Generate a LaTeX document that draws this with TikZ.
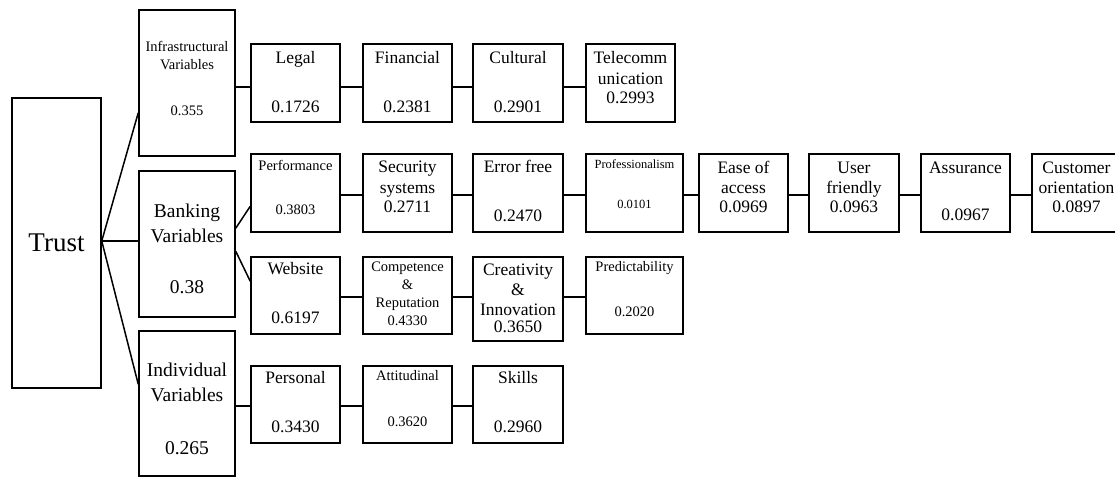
\documentclass[tikz,border=0pt]{standalone}
\usepackage{fontspec}
\setmainfont{Liberation Serif}
\tikzset{
  box/.style={draw, line width=1.5pt, inner sep=0pt},
  conn/.style={line width=1.5pt},
  fA/.style={inner sep=0pt, text height=17.8pt, text depth=0pt, font=\fontsize{27}{30}\selectfont},
  fB/.style={inner sep=0pt, text height=12.9pt, text depth=0pt, font=\fontsize{19.5}{22}\selectfont},
  fC/.style={inner sep=0pt, text height=11.6pt, text depth=0pt, font=\fontsize{17.5}{20}\selectfont},
  fD/.style={inner sep=0pt, text height=9.6pt, text depth=0pt, font=\fontsize{14.5}{17}\selectfont},
  fE/.style={inner sep=0pt, text height=8.3pt, text depth=0pt, font=\fontsize{12.5}{15}\selectfont},
}
\begin{document}
\begin{tikzpicture}[x=1pt,y=-1pt]
\useasboundingbox (0,0) rectangle (1115,477);
% ---- boxes ----
\node[box, minimum width=89pt, minimum height=290pt] (trust) at (56.5,243) {};
\node[box, minimum width=96pt, minimum height=146pt] (infra) at (187,83) {};
\node[box, minimum width=96pt, minimum height=146pt] (bank) at (187,244) {};
\node[box, minimum width=96pt, minimum height=145pt] (indiv) at (187,403.5) {};
% row 1
\node[box, minimum width=89pt, minimum height=78pt] (legal) at (295.5,83) {};
\node[box, minimum width=89pt, minimum height=78pt] (fin) at (407.5,83) {};
\node[box, minimum width=90pt, minimum height=78pt] (cult) at (518,83) {};
\node[box, minimum width=89pt, minimum height=78pt] (tele) at (630.5,83) {};
% row 2
\node[box, minimum width=89pt, minimum height=78pt] (perf) at (295.5,193) {};
\node[box, minimum width=89pt, minimum height=78pt] (sec) at (407.5,193) {};
\node[box, minimum width=90pt, minimum height=78pt] (err) at (518,193) {};
\node[box, minimum width=97pt, minimum height=78pt] (prof) at (634.5,193) {};
\node[box, minimum width=89pt, minimum height=78pt] (ease) at (743.5,193) {};
\node[box, minimum width=90pt, minimum height=78pt] (user) at (854,193) {};
\node[box, minimum width=89pt, minimum height=78pt] (assur) at (965.5,193) {};
\node[box, minimum width=89pt, minimum height=78pt] (cust) at (1076.5,193) {};
% row 3
\node[box, minimum width=89pt, minimum height=77pt] (web) at (295.5,295.5) {};
\node[box, minimum width=89pt, minimum height=77pt] (comp) at (407.5,295.5) {};
\node[box, minimum width=90pt, minimum height=84pt] (creat) at (518,299) {};
\node[box, minimum width=97pt, minimum height=77pt] (pred) at (634.5,295.5) {};
% row 4
\node[box, minimum width=89pt, minimum height=77pt] (pers) at (295.5,404.5) {};
\node[box, minimum width=89pt, minimum height=77pt] (att) at (407.5,404.5) {};
\node[box, minimum width=90pt, minimum height=77pt] (skill) at (518,404.5) {};
% ---- connectors ----
\draw[conn] ([yshift=2pt]trust.east) -- ([yshift=44pt]infra.south west);
\draw[conn] ([yshift=2pt]trust.east) -- ([yshift=2pt]trust.east -| bank.west);
\draw[conn] ([yshift=2pt]trust.east) -- ([yshift=-54pt]indiv.north west);
\draw[conn] ([yshift=-58pt]bank.north east) -- ([yshift=-53pt]perf.north west);
\draw[conn] ([yshift=-81pt]bank.north east) -- ([yshift=-25pt]web.north west);
\draw[conn] ([yshift=-4pt]legal.west -| infra.east) -- ([yshift=-4pt]legal.west);
\draw[conn] ([yshift=-4pt]legal.east) -- ([yshift=-4pt]fin.west);
\draw[conn] ([yshift=-4pt]fin.east) -- ([yshift=-4pt]cult.west);
\draw[conn] ([yshift=-4pt]cult.east) -- ([yshift=-4pt]tele.west);
\draw[conn] ([yshift=-2pt]perf.east) -- ([yshift=-2pt]sec.west);
\draw[conn] ([yshift=-2pt]sec.east) -- ([yshift=-2pt]err.west);
\draw[conn] ([yshift=-2pt]err.east) -- ([yshift=-2pt]prof.west);
\draw[conn] ([yshift=-2pt]prof.east) -- ([yshift=-2pt]ease.west);
\draw[conn] ([yshift=-2pt]ease.east) -- ([yshift=-2pt]user.west);
\draw[conn] ([yshift=-2pt]user.east) -- ([yshift=-2pt]assur.west);
\draw[conn] ([yshift=-2pt]assur.east) -- ([yshift=-2pt]cust.west);
\draw[conn] ([yshift=-1.5pt]web.east) -- ([yshift=-1.5pt]comp.west);
\draw[conn] ([yshift=-1.5pt]comp.east) -- ([yshift=-1.5pt]comp.east -| creat.west);
\draw[conn] ([yshift=-1.5pt]comp.east -| creat.east) -- ([yshift=-1.5pt]pred.west);
\draw[conn] ([yshift=-1.5pt]pers.west -| indiv.east) -- ([yshift=-1.5pt]pers.west);
\draw[conn] ([yshift=-1.5pt]pers.east) -- ([yshift=-1.5pt]att.west);
\draw[conn] ([yshift=-1.5pt]att.east) -- ([yshift=-1.5pt]skill.west);
% ---- texts ----
\node[fA] (trust-a) at (56.5,243) {Trust};
\node[fD] (infra-a) at (187,46.5) {Infrastructural};
\node[fD] (infra-b) at (187,65) {Variables};
\node[fD] (infra-v) at (187,111) {0.355};
\node[fB] (bank-a) at (187,211) {Banking};
\node[fB] (bank-b) at (187,236) {Variables};
\node[fB] (bank-v) at (187,287) {0.38};
\node[fB] (indiv-a) at (187,370) {Individual};
\node[fB] (indiv-b) at (187,395) {Variables};
\node[fB] (indiv-v) at (187,448) {0.265};
% row 1
\node[fC] (legal-a) at (295.5,57.5) {Legal};
\node[fC] (legal-v) at (295.5,107) {0.1726};
\node[fC] (fin-a) at (407.5,57.5) {Financial};
\node[fC] (fin-v) at (407.5,107) {0.2381};
\node[fC] (cult-a) at (518,57.5) {Cultural};
\node[fC] (cult-v) at (518,107) {0.2901};
\node[fC] (tele-a) at (630.5,57.5) {Telecomm};
\node[fC] (tele-b) at (630.5,78.5) {unication};
\node[fC] (tele-v) at (630.5,98) {0.2993};
% row 2
\node[fD] (perf-a) at (295.5,165.5) {Performance};
\node[fD] (perf-v) at (295.5,210) {0.3803};
\node[fC] (sec-a) at (407.5,167) {Security};
\node[fC] (sec-b) at (407.5,188) {systems};
\node[fC] (sec-v) at (407.5,207) {0.2711};
\node[fC] (err-a) at (518,167) {Error free};
\node[fC] (err-v) at (518,216) {0.2470};
\node[fE] (prof-a) at (634.5,164) {Professionalism};
\node[fE] (prof-v) at (634.5,204) {0.0101};
\node[fC] (ease-a) at (743.5,168) {Ease of};
\node[fC] (ease-b) at (743.5,188) {access};
\node[fC] (ease-v) at (743.5,207) {0.0969};
\node[fC] (user-a) at (854,168) {User};
\node[fC] (user-b) at (854,188) {friendly};
\node[fC] (user-v) at (854,207) {0.0963};
\node[fC] (assur-a) at (965.5,168) {Assurance};
\node[fC] (assur-v) at (965.5,215) {0.0967};
\node[fC] (cust-a) at (1076.5,168) {Customer};
\node[fC] (cust-b) at (1076.5,188) {orientation};
\node[fC] (cust-v) at (1076.5,207) {0.0897};
% row 3
\node[fC] (web-a) at (295.5,269) {Website};
\node[fC] (web-v) at (295.5,318) {0.6197};
\node[fD] (comp-a) at (407.5,267) {Competence};
\node[fD] (comp-b) at (407.5,285) {\&};
\node[fD] (comp-c) at (407.5,303) {Reputation};
\node[fD] (comp-v) at (407.5,321) {0.4330};
\node[fC] (creat-a) at (518,270) {Creativity};
\node[fC] (creat-b) at (518,290) {\&};
\node[fC] (creat-c) at (518,310) {Innovation};
\node[fC] (creat-v) at (518,327) {0.3650};
\node[fD] (pred-a) at (634.5,267) {Predictability};
\node[fD] (pred-v) at (634.5,312) {0.2020};
% row 4
\node[fC] (pers-a) at (295.5,378) {Personal};
\node[fC] (pers-v) at (295.5,427) {0.3430};
\node[fD] (att-a) at (407.5,376) {Attitudinal};
\node[fD] (att-v) at (407.5,422) {0.3620};
\node[fC] (skill-a) at (518,378) {Skills};
\node[fC] (skill-v) at (518,427) {0.2960};
\end{tikzpicture}
\end{document}
